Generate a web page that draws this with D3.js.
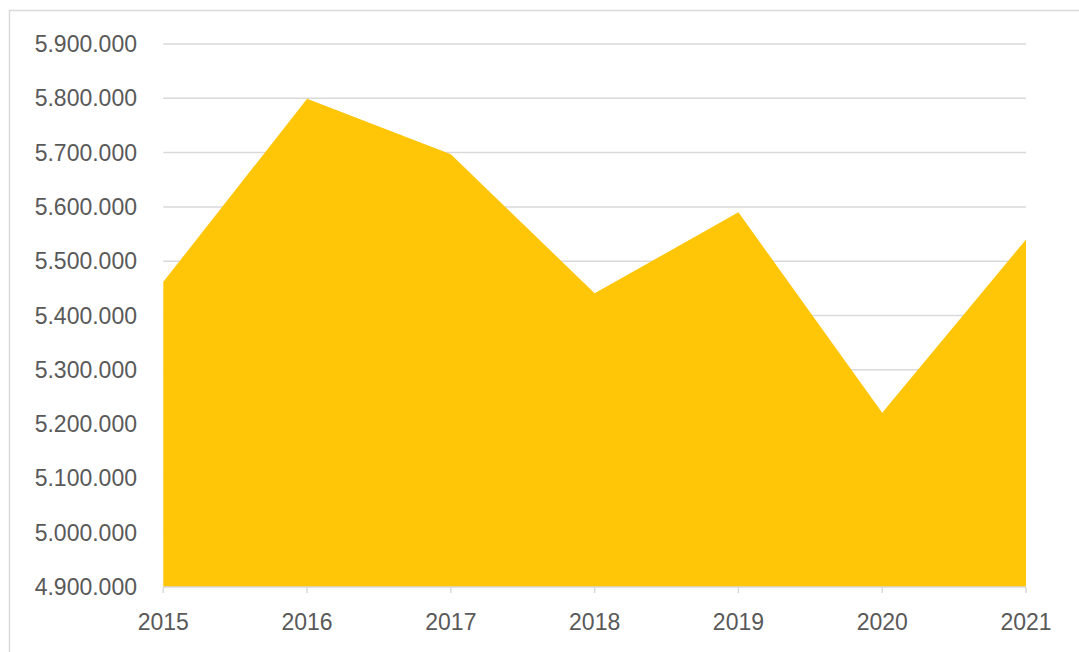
<!DOCTYPE html>
<html>
<head>
<meta charset="utf-8">
<script src="https://cdn.jsdelivr.net/npm/d3@7"></script>
<style>
  html, body { margin: 0; padding: 0; background: #fff; }
  svg { display: block; }
  .lbl { font-family: "Liberation Sans", Arial, sans-serif; font-size: 23px; fill: #595959; }
</style>
</head>
<body>
<svg id="chart" width="1079" height="652"></svg>
<script>
// values
const years  = ["2015", "2016", "2017", "2018", "2019", "2020", "2021"];
const values = [5462000, 5799000, 5697000, 5441000, 5590000, 5221000, 5540000];
const yTicks = [4900000, 5000000, 5100000, 5200000, 5300000, 5400000, 5500000, 5600000, 5700000, 5800000, 5900000];

const svg = d3.select("#chart");
const plotLeft = 163.3, plotRight = 1026, plotTop = 44, plotBottom = 587;

// outer frame of the chart
svg.append("rect")
  .attr("x", 9.5).attr("y", 10.5)
  .attr("width", 1200).attr("height", 800)
  .attr("fill", "none").attr("stroke", "#d9d9d9").attr("stroke-width", 1.5);

const x = d3.scalePoint().domain(years).range([plotLeft, plotRight]);
const y = d3.scaleLinear().domain([4900000, 5900000]).range([plotBottom, plotTop]);

const fmt = d3.formatLocale({decimal: ",", thousands: ".", grouping: [3], currency: ["", ""]}).format(",d");

// gridlines
svg.append("g")
  .selectAll("line")
  .data(yTicks.slice(1))
  .join("line")
  .attr("x1", plotLeft).attr("x2", plotRight)
  .attr("y1", d => y(d)).attr("y2", d => y(d))
  .attr("stroke", "#d9d9d9").attr("stroke-width", 1.5);

// area
const data = years.map((yr, i) => ({year: yr, value: values[i]}));
svg.append("path")
  .datum(data)
  .attr("fill", "#ffc608")
  .attr("d", d3.area()
    .x(d => x(d.year))
    .y0(y(4900000))
    .y1(d => y(d.value)));

// x axis line + ticks
svg.append("line")
  .attr("x1", plotLeft).attr("x2", plotRight)
  .attr("y1", plotBottom).attr("y2", plotBottom)
  .attr("stroke", "#d9d9d9").attr("stroke-width", 1.5);

svg.append("g")
  .selectAll("line")
  .data(years)
  .join("line")
  .attr("x1", d => x(d)).attr("x2", d => x(d))
  .attr("y1", plotBottom).attr("y2", plotBottom + 6)
  .attr("stroke", "#d9d9d9").attr("stroke-width", 1.5);

// y labels
svg.append("g")
  .selectAll("text")
  .data(yTicks)
  .join("text")
  .attr("class", "lbl")
  .attr("x", 137)
  .attr("y", d => y(d))
  .attr("dy", "0.35em")
  .attr("text-anchor", "end")
  .text(d => fmt(d));

// x labels
svg.append("g")
  .selectAll("text")
  .data(years)
  .join("text")
  .attr("class", "lbl")
  .attr("x", d => x(d))
  .attr("y", 622)
  .attr("dy", "0.35em")
  .attr("text-anchor", "middle")
  .text(d => d);
</script>
</body>
</html>
